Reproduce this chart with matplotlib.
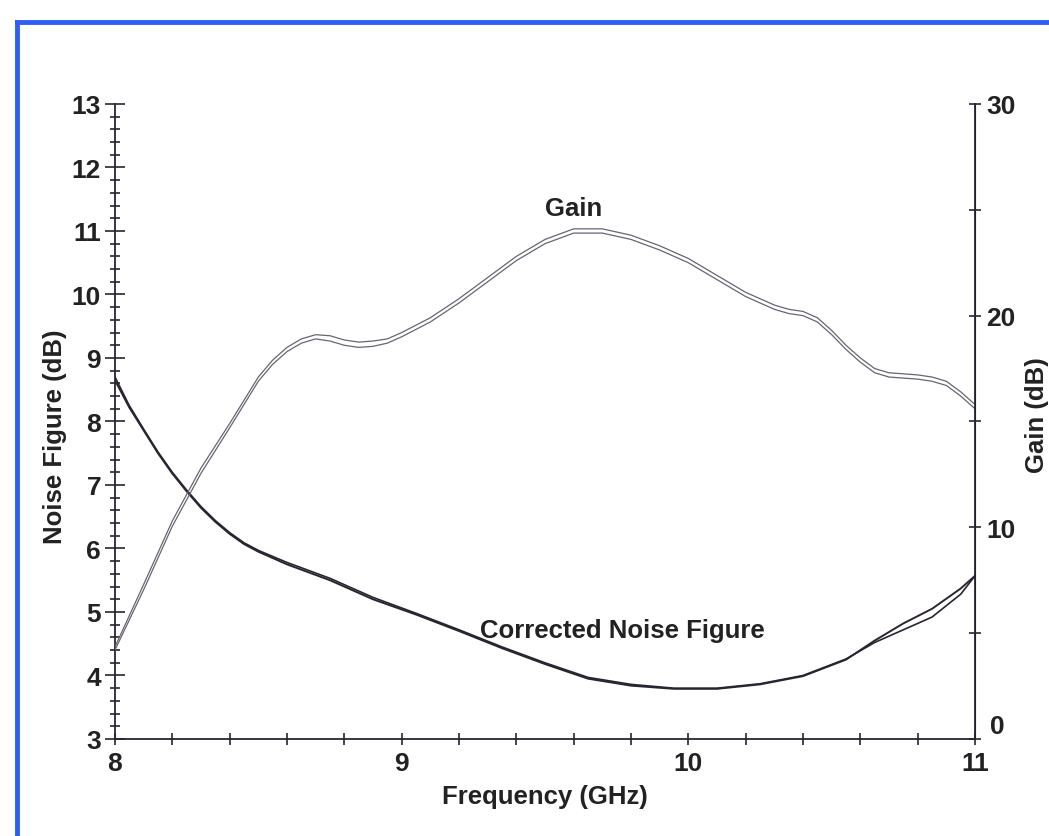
import numpy as np
import matplotlib
matplotlib.use("Agg")
import matplotlib.pyplot as plt
from matplotlib.lines import Line2D
from matplotlib.ticker import MultipleLocator, FixedLocator, FixedFormatter
import matplotlib.transforms as mtransforms

plt.rcParams['font.family'] = ['Liberation Sans', 'DejaVu Sans']

# noise figure, two nearly identical traces (dB, left axis)
freq_nf = [8.0, 8.05, 8.1, 8.15, 8.2, 8.25, 8.3, 8.35, 8.4, 8.45, 8.5, 8.6,
           8.75, 8.9, 9.05, 9.2, 9.35, 9.5, 9.65, 9.8, 9.95, 10.1, 10.25,
           10.4, 10.55, 10.65, 10.75, 10.85, 10.95, 11.0]
nf_a = [8.65, 8.22, 7.86, 7.5, 7.18, 6.9, 6.64, 6.42, 6.23, 6.07, 5.95, 5.75,
        5.5, 5.2, 4.96, 4.7, 4.43, 4.18, 3.95, 3.84, 3.79, 3.79, 3.86,
        3.99, 4.25, 4.55, 4.82, 5.05, 5.37, 5.57]
nf_b = [8.7, 8.25, 7.88, 7.52, 7.2, 6.92, 6.66, 6.44, 6.25, 6.09, 5.97, 5.78,
        5.53, 5.23, 4.98, 4.72, 4.45, 4.2, 3.97, 3.86, 3.8, 3.8, 3.87,
        4.0, 4.26, 4.52, 4.72, 4.92, 5.28, 5.57]

# gain, two traces (dB, right axis)
freq_g = [8.0, 8.1, 8.2, 8.3, 8.4, 8.45, 8.5, 8.55, 8.6, 8.65, 8.7, 8.75,
          8.8, 8.85, 8.9, 8.95, 9.0, 9.1, 9.2, 9.3, 9.4, 9.5, 9.6, 9.7, 9.8,
          9.9, 10.0, 10.1, 10.2, 10.3, 10.35, 10.4, 10.45, 10.5, 10.55, 10.6,
          10.65, 10.7, 10.75, 10.8, 10.85, 10.9, 10.95, 11.0]
gain_a = [4.35, 7.3, 10.3, 12.8, 14.9, 16.0, 17.1, 17.9, 18.5, 18.9, 19.1,
          19.05, 18.85, 18.75, 18.8, 18.9, 19.2, 19.9, 20.8, 21.8, 22.8, 23.6,
          24.1, 24.1, 23.8, 23.3, 22.7, 21.9, 21.1, 20.5, 20.3, 20.2, 19.9,
          19.3, 18.6, 18.0, 17.5, 17.3, 17.25, 17.2, 17.1, 16.9, 16.4, 15.8]
gain_b = [4.2, 7.05, 10.05, 12.55, 14.7, 15.8, 16.9, 17.7, 18.3, 18.7, 18.9,
          18.8, 18.6, 18.5, 18.55, 18.7, 19.0, 19.7, 20.6, 21.6, 22.6, 23.4,
          23.9, 23.9, 23.6, 23.1, 22.5, 21.7, 20.9, 20.3, 20.1, 20.0, 19.7,
          19.1, 18.4, 17.8, 17.3, 17.1, 17.05, 17.0, 16.9, 16.7, 16.2, 15.6]

x_ticks = [8, 9, 10, 11]
gain_ticks = [0, 10, 20, 30]
gain_labels = ['', '10', '20', '30']

fig = plt.figure(figsize=(10.49, 8.37), dpi=100)
ax = fig.add_axes([0.1096, 0.1159, 0.8199, 0.7587])
ax2 = ax.twinx()

ink = '#2a2430'
ax.plot(freq_nf, nf_a, color=ink, lw=1.4)
ax.plot(freq_nf, nf_b, color=ink, lw=1.2)
ax2.plot(freq_g, gain_a, color='#6a6472', lw=0.9)
ax2.plot(freq_g, gain_b, color='#6a6472', lw=0.9)

ax.set_xlim(8, 11)
ax.set_ylim(3, 13)
ax2.set_ylim(0, 30)

ax.spines['top'].set_visible(False)
ax2.spines['top'].set_visible(False)
for sp in ['left', 'bottom']:
    ax.spines[sp].set_color(ink)
    ax.spines[sp].set_linewidth(1.3)
ax2.spines['right'].set_color(ink)
ax2.spines['right'].set_linewidth(1.3)
ax2.spines['left'].set_visible(False)
ax2.spines['bottom'].set_visible(False)

ax.xaxis.set_major_locator(FixedLocator(x_ticks))
ax.xaxis.set_minor_locator(MultipleLocator(0.2))
ax.yaxis.set_major_locator(MultipleLocator(1))
ax.yaxis.set_minor_locator(MultipleLocator(0.2))
ax2.yaxis.set_major_locator(FixedLocator(gain_ticks))
ax2.yaxis.set_major_formatter(FixedFormatter(gain_labels))
ax2.yaxis.set_minor_locator(MultipleLocator(5))

ax.tick_params(axis='x', which='both', direction='inout', length=8, width=1.2,
               color=ink, pad=5, labelsize=19)
ax.tick_params(axis='y', which='major', direction='inout', length=14, width=1.2,
               color=ink, pad=3, labelsize=19)
ax.tick_params(axis='y', which='minor', direction='inout', length=7, width=1.2,
               color=ink)
ax2.tick_params(axis='y', which='both', direction='inout', length=8, width=1.2,
                color=ink, pad=4, labelsize=19)
for t in ax.get_xticklabels() + ax.get_yticklabels() + ax2.get_yticklabels():
    t.set_fontweight('bold')
    t.set_color('#222')

# the "0" of the gain scale sits a little above the corner in the original
lift = mtransforms.ScaledTranslation(16 / 72, 9 / 72, fig.dpi_scale_trans)
ax2.text(1.0, 0, '0', transform=ax2.get_yaxis_transform() + lift,
         ha='center', va='center', fontsize=19, fontweight='bold',
         color='#222')

txt = dict(fontsize=18.5, fontweight='bold', color='#222')
ax.set_xlabel('Frequency (GHz)', labelpad=6, **txt)
fig.text(55 / 1049, 1 - 437 / 837, 'Noise Figure (dB)', rotation=90,
         ha='center', va='center', **txt)
fig.text(1037 / 1049, 1 - 415 / 837, 'Gain (dB)', rotation=90,
         ha='center', va='center', **txt)

ax2.text(9.6, 25.1, 'Gain', ha='center', va='center', **txt)
ax.text(9.77, 4.72, 'Corrected Noise Figure', ha='center', va='center', **txt)

# blue frame of the scan
blue = '#2f5ff2'
fig.add_artist(Line2D([17 / 1049, 1], [1 - 23 / 837, 1 - 23 / 837],
                      color=blue, lw=3.5))
fig.add_artist(Line2D([17 / 1049, 17 / 1049], [1 - 23 / 837, 0],
                      color=blue, lw=3.5))

fig.savefig('out.png', dpi=100)
